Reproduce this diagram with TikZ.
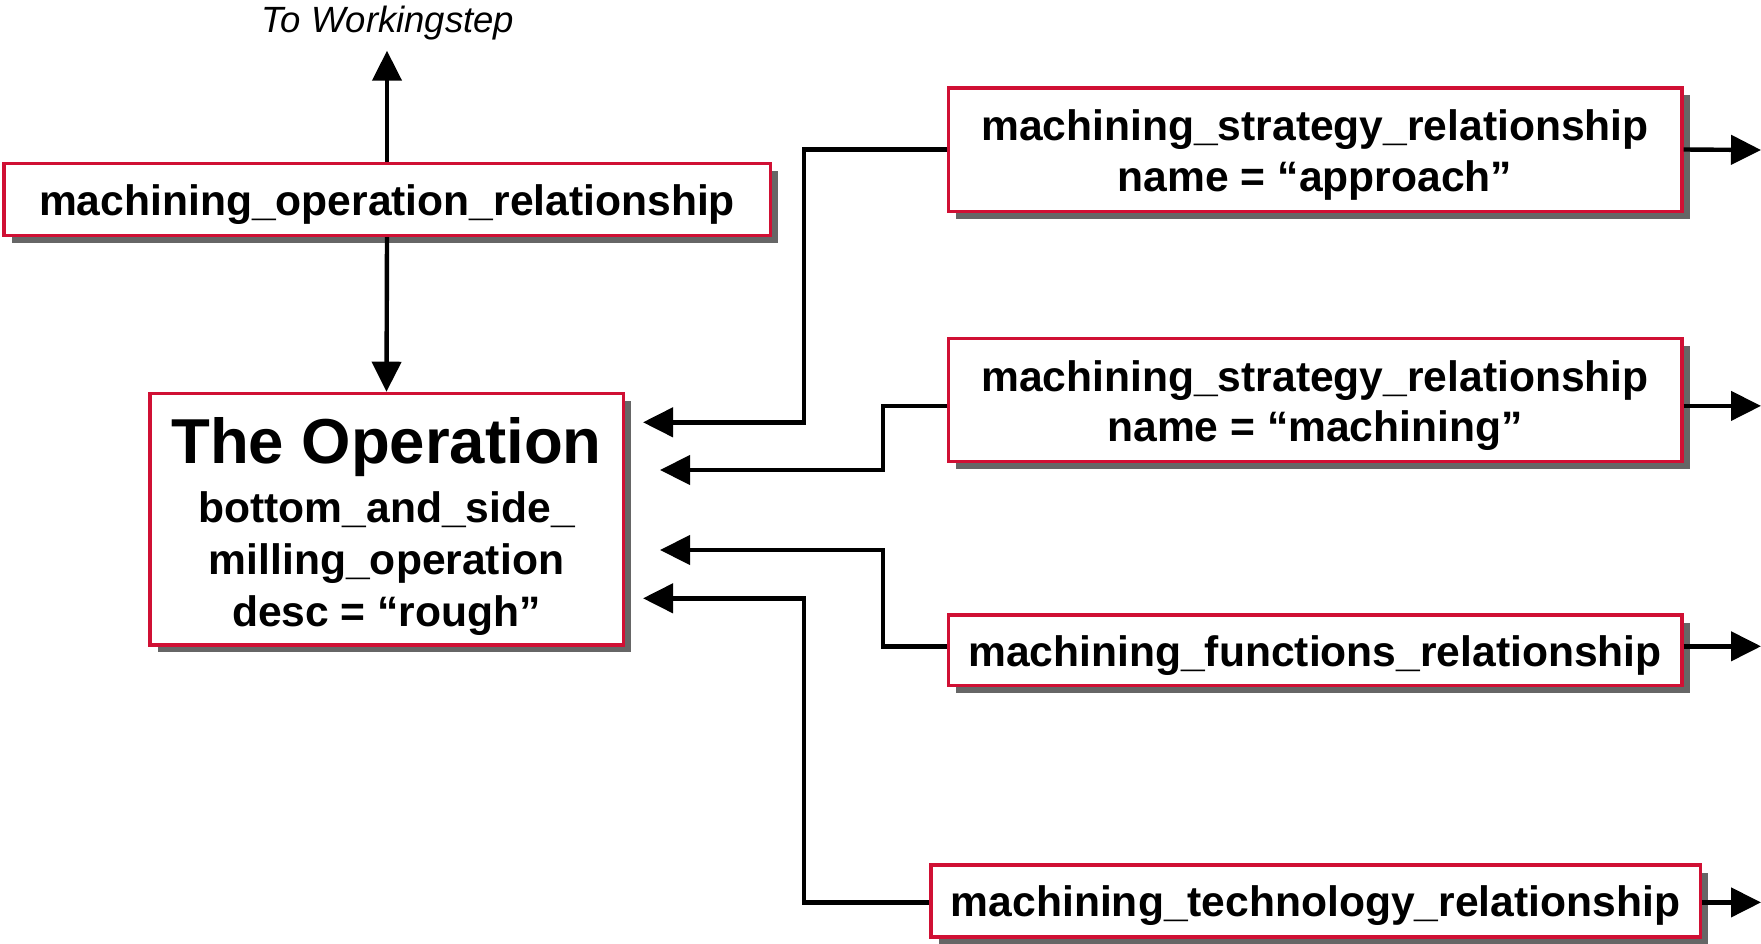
\documentclass[tikz,border=0pt]{standalone}
\usepackage{fontspec}
\setmainfont{Liberation Sans}
\usetikzlibrary{arrows.meta,shadows}
\definecolor{boxred}{RGB}{208,16,52}
\definecolor{shadowgray}{RGB}{102,102,102}
\begin{document}
\begin{tikzpicture}[x=1pt,y=-1pt,
  relbox/.style={draw=boxred, line width=3.5pt, fill=white, inner sep=0pt,
    align=center, font=\bfseries\fontsize{42.6}{50.5}\selectfont,
    drop shadow={shadow xshift=8pt, shadow yshift=-7.5pt, fill=shadowgray, opacity=1}},
  oneline/.style={text height=41pt, text depth=9pt},
  conn/.style={line width=4.4pt, draw=black, -{Triangle[length=30pt,width=29pt]}}]
\useasboundingbox (0,0) rectangle (1761,943);

% boxes
\node[relbox, oneline, minimum width=766.5pt, minimum height=72pt] (mor) at (387,199.4)
  {machining\_operation\_relationship};
\node[relbox, font=\bfseries\fontsize{42.6}{52}\selectfont, minimum width=473.5pt, minimum height=251.5pt] (op) at (386.5,519.2)
  {\rule{0pt}{60pt}{\fontsize{63.5}{64}\selectfont The Operation}\\[7pt]bottom\_and\_side\_\\milling\_operation\\desc = “rough”};
\node[relbox, minimum width=733.5pt, minimum height=123.5pt] (s1) at (1315,149.5)
  {\rule{0pt}{42pt}machining\_strategy\_relationship\\name = “approach”};
\node[relbox, minimum width=733.5pt, minimum height=122.8pt] (s2) at (1315,399.9)
  {\rule{0pt}{42pt}machining\_strategy\_relationship\\name = “machining”};
\node[relbox, oneline, minimum width=733.5pt, minimum height=70.5pt] (fr) at (1315,650.3)
  {machining\_functions\_relationship};
\node[relbox, oneline, minimum width=769.5pt, minimum height=71.7pt] (tr) at (1315.5,900.9)
  {machining\_technology\_relationship};

% label
\node[font=\itshape\fontsize{36.5}{40}\selectfont, anchor=base, inner sep=0pt] (wslabel) at (388,32) {To Workingstep};

% free ends and bends
\coordinate (ws) at (387,50.7);
\coordinate (a1) at (643,422.3);
\coordinate (a2) at (660,470);
\coordinate (a3) at (660,550);
\coordinate (a4) at (643,598.3);
\coordinate (j1) at (804,300);
\coordinate (j2) at (883,440);
\coordinate (j3) at (883,600);
\coordinate (j4) at (804,750);
\coordinate (r1) at (1761,150);
\coordinate (r2) at (1761,405.9);
\coordinate (r3) at (1761,646.3);
\coordinate (r4) at (1761,902.4);

% connectors
\draw[conn] (mor.north) -- (ws);
\draw[conn] (mor.south) -- (op.north);
\draw[conn] (s1.west) -| (j1) |- (a1);
\draw[conn] ([yshift=-6pt]s2.west) -| (j2) |- (a2);
\draw[conn] ([yshift=4pt]fr.west) -| (j3) |- (a3);
\draw[conn] ([yshift=-1.5pt]tr.west) -| (j4) |- (a4);
\draw[conn] (s1.east) -- (r1);
\draw[conn] ([yshift=-6pt]s2.east) -- (r2);
\draw[conn] ([yshift=4pt]fr.east) -- (r3);
\draw[conn] ([yshift=-1.5pt]tr.east) -- (r4);
\end{tikzpicture}
\end{document}
